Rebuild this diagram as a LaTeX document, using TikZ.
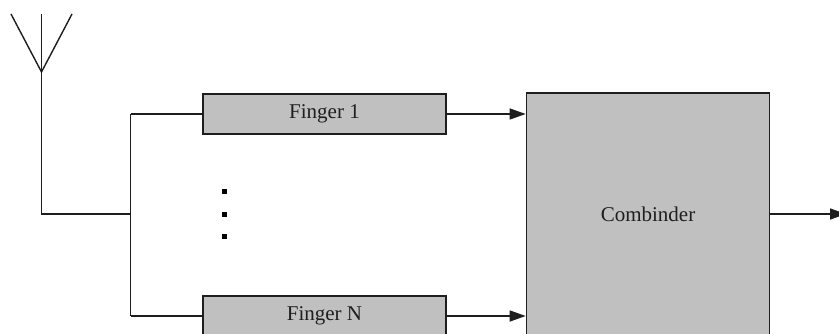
\documentclass[tikz,border=0pt]{standalone}
\usepackage{fontspec}
\setmainfont{Liberation Serif}
\usetikzlibrary{arrows.meta}
\definecolor{boxgray}{RGB}{192,192,192}
\definecolor{ink}{RGB}{30,30,30}
\begin{document}
\begin{tikzpicture}[x=1pt,y=-1pt,
  box/.style={draw=ink, fill=boxgray, line width=1.6pt, inner sep=0pt,
    font=\fontsize{21}{25}\selectfont, text=ink},
  wire/.style={line width=1.4pt, draw=ink},
  arr/.style={wire, -{Triangle[length=16pt,width=11pt]}},
  sqdot/.style={fill=black, minimum size=5pt, inner sep=0pt}]
\useasboundingbox (0,0) rectangle (839,334);
\clip (0,0) rectangle (839,334);
% antenna
\coordinate (apex) at (41.5,72);
\coordinate (armL) at (11,14);
\coordinate (armR) at (72,14);
\coordinate (mast) at (41.5,14);
\coordinate (foot) at (41.5,214);
\coordinate (junc) at (130.5,214);
\coordinate (busT) at (130.5,114);
\coordinate (busB) at (130.5,316);
% boxes
\node[box, minimum width=243pt, minimum height=40pt] (f1) at (324.5,114) {Finger 1};
\node[box, minimum width=243pt, minimum height=40pt] (fN) at (324.5,316) {Finger N};
\node[box, minimum width=243pt, minimum height=242pt] (comb) at (648,214) {Combinder};
\coordinate (out) at (846,214);
% dots
\node[sqdot] (d1) at (224.5,192) {};
\node[sqdot] (d2) at (224.5,214.5) {};
\node[sqdot] (d3) at (224.5,237) {};
% antenna drawing
\draw[wire] (armL) -- (apex) -- (armR);
\draw[wire] (mast) -- (foot) -- (junc);
\draw[wire] (busT) -- (busB);
\draw[wire] (busT) -- (f1.west);
\draw[wire] (busB) -- (fN.west);
% arrows
\draw[arr] (f1.east) -- (comb.west |- f1.east);
\draw[arr] (fN.east) -- (comb.west |- fN.east);
\draw[arr] (comb.east) -- (out);
\end{tikzpicture}
\end{document}
